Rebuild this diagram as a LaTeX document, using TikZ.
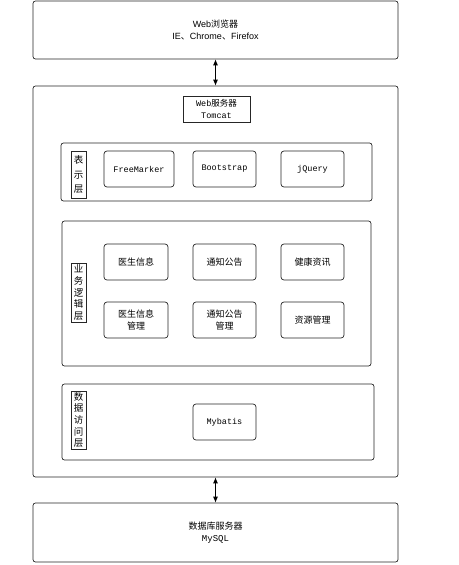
\documentclass[tikz,border=0pt]{standalone}
\usepackage{fontspec}
\setmainfont{Liberation Sans}
\setmonofont{Liberation Mono}
\newfontfamily\cjk{Noto Sans CJK SC}
\usetikzlibrary{arrows.meta}
\begin{document}
\begin{tikzpicture}[x=1pt,y=-1pt,
  base/.style={draw=black!85, line width=0.7pt, inner sep=0pt, align=center},
  big/.style={base, rounded corners=2.5pt, font=\fontsize{9}{12}\selectfont},
  panel/.style={base, rounded corners=2.5pt},
  item/.style={base, rounded corners=3pt, minimum height=36pt, font=\fontsize{9}{12}\selectfont},
  vlabel/.style={base, minimum width=15pt, font=\cjk\fontsize{9.5}{11.6}\selectfont},
  arr/.style={{Latex[length=6pt,width=5pt]}-{Latex[length=6pt,width=5pt]}, line width=0.8pt}]
\useasboundingbox (0,0) rectangle (458,565);

\node[big, minimum width=365pt, minimum height=58pt] (browser) at (215.5,30) {Web{\cjk 浏览器}\\IE{\cjk 、}Chrome{\cjk 、}Firefox};
\node[panel, minimum width=365pt, minimum height=391pt] (server) at (215.5,281.5) {};
\node[base, minimum width=67pt, minimum height=26pt, font=\ttfamily\fontsize{8.5}{12}\selectfont] (tomcat) at (216.5,109) {Web{\cjk 服务器}\\Tomcat};
\node[big, minimum width=365pt, minimum height=59pt] (db) at (215.5,532.5) {{\cjk 数据库服务器}\\\ttfamily MySQL};

\draw[arr] (browser) -- (server);
\draw[arr] (server) -- (db);

% presentation layer
\node[panel, minimum width=311pt, minimum height=58pt] (pres) at (216.5,172) {};
\node[vlabel, minimum height=47pt, font=\cjk\fontsize{9.5}{14.5}\selectfont] (preslbl) at (78.5,174.5) {表\\示\\层};
\node[item, minimum width=70pt, font=\ttfamily\fontsize{8.5}{12}\selectfont] (fm) at (139,169) {FreeMarker};
\node[item, minimum width=63pt, font=\ttfamily\fontsize{8.5}{12}\selectfont] (bs) at (224.5,169) {Bootstrap};
\node[item, minimum width=63pt, font=\ttfamily\fontsize{8.5}{12}\selectfont] (jq) at (312.5,169) {jQuery};

% business layer
\node[panel, minimum width=309pt, minimum height=145pt] (biz) at (216.5,293.5) {};
\node[vlabel, minimum height=59pt] (bizlbl) at (78.5,292.5) {业\\务\\逻\\辑\\层};
\node[item, minimum width=64pt, font=\cjk\fontsize{9}{12}\selectfont] (doc) at (136,262) {医生信息};
\node[item, minimum width=63pt, font=\cjk\fontsize{9}{12}\selectfont] (notice) at (224.5,262) {通知公告};
\node[item, minimum width=63pt, font=\cjk\fontsize{9}{12}\selectfont] (health) at (312.5,262) {健康资讯};
\node[item, minimum width=64pt, font=\cjk\fontsize{9}{12}\selectfont] (docm) at (136,320) {医生信息\\管理};
\node[item, minimum width=63pt, font=\cjk\fontsize{9}{12}\selectfont] (noticem) at (224.5,320) {通知公告\\管理};
\node[item, minimum width=63pt, font=\cjk\fontsize{9}{12}\selectfont] (res) at (312.5,320) {资源管理};

% data access layer
\node[panel, minimum width=312pt, minimum height=76pt] (dal) at (218,422) {};
\node[vlabel, minimum height=58pt] (dallbl) at (78.5,420) {数\\据\\访\\问\\层};
\node[item, minimum width=63pt, font=\ttfamily\fontsize{8.5}{12}\selectfont] (mybatis) at (224.5,422) {Mybatis};
\end{tikzpicture}
\end{document}
